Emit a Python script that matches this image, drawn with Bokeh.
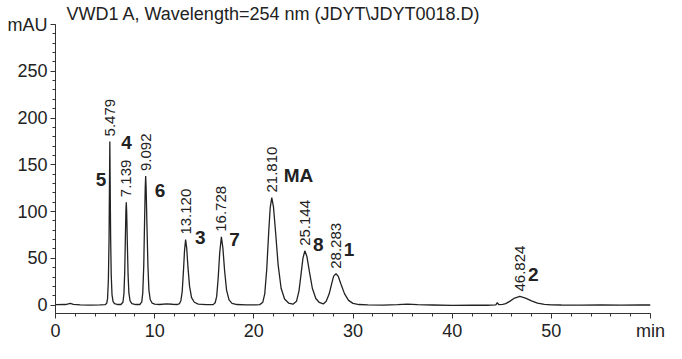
from math import pi
from bokeh.plotting import figure
from bokeh.models import SingleIntervalTicker, Range1d
from bokeh.core.properties import value
from bokeh.embed import file_html
from bokeh.resources import INLINE

# ---- data ----
trace_time = [0.0, 1.0, 1.5, 1.8, 2.5, 3.5, 4.5, 5.0, 5.17, 5.25, 5.33, 5.40, 5.44, 5.479,
              5.52, 5.56, 5.62, 5.70, 5.80, 5.95, 6.3, 6.6, 6.8, 6.9, 6.98, 7.05, 7.10, 7.139,
              7.18, 7.24, 7.32, 7.40, 7.52, 7.7, 8.1, 8.5, 8.7, 8.8, 8.9, 8.98, 9.05, 9.092,
              9.14, 9.22, 9.32, 9.42, 9.55, 9.75, 10.0, 10.5, 11.2, 11.8, 12.3, 12.5, 12.65,
              12.78, 12.9, 13.01, 13.12, 13.23, 13.36, 13.52, 13.72, 14.0, 14.4, 15.2, 15.9,
              16.1, 16.25, 16.4, 16.56, 16.728, 16.88, 17.05, 17.25, 17.5, 17.8, 18.3, 19.2,
              20.2, 20.6, 20.9, 21.1, 21.3, 21.5, 21.65, 21.81, 21.98, 22.2, 22.45, 22.75,
              23.1, 23.5, 23.95, 24.3, 24.55, 24.75, 24.95, 25.144, 25.35, 25.6, 25.9, 26.25,
              26.6, 27.0, 27.3, 27.6, 27.85, 28.05, 28.283, 28.5, 28.8, 29.15, 29.55, 30.0,
              30.6, 31.5, 33.0, 34.5, 35.5, 36.5, 38.0, 40.0, 42.0, 43.5, 44.4, 44.55, 44.7,
              45.1, 45.4, 45.8, 46.3, 46.824, 47.4, 48.0, 48.6, 49.3, 50.0, 51.0, 53.0, 55.0,
              57.0, 59.0, 60.0]
trace_mau = [0.5, 0.6, 1.8, 0.8, 0.3, 0.0, 0.2, 0.4, 2, 7, 26, 70, 125, 175,
             120, 72, 32, 11, 4, 1.5, 0.6, 0.6, 3, 12, 35, 74, 101, 110,
             99, 68, 32, 13, 4.5, 1.5, 0.6, 0.6, 3.5, 13, 42, 88, 126, 138,
             125, 86, 42, 16, 6, 2, 1, 0.6, 1.3, 0.9, 0.6, 1.5, 5,
             15, 36, 58, 70, 61, 40, 20, 8, 3, 1, 0.4, 0.5,
             2.5, 9, 28, 56, 73, 61, 37, 16, 5.5, 1.8, 0.6, 0.3,
             0.3, 0.5, 3, 12, 38, 78, 104, 115, 105, 77, 43, 18,
             6.5, 2.2, 1.0, 4, 15, 32, 50, 58, 52, 36, 18, 7,
             2.8, 1.2, 4, 12, 23, 31, 33.5, 31, 22, 12, 5, 1.8,
             0.6, 0.2, 0.0, 0.5, 1.0, 0.4, 0.1, -0.3, 0.0, -0.2, 0.3, 2.5, 0.4,
             0.8, 1.6, 4, 7.5, 9.2, 7.5, 4.5, 2, 0.7, 0.2, 0.1, 0.0, 0.3,
             0.0, 0.2, 0.1]

rt_values = [5.479, 7.139, 9.092, 13.120, 16.728, 21.810, 25.144, 28.283, 46.824]
rt_apex = [175, 110, 138, 70, 73, 115, 58, 33.5, 9.2]
rt_labels = ["5.479", "7.139", "9.092", "13.120", "16.728", "21.810", "25.144", "28.283", "46.824"]

compound_names = ["5", "4", "6", "3", "7", "MA", "8", "1", "2"]
compound_x = [4.58, 7.16, 10.55, 14.59, 18.06, 24.5, 26.51, 29.61, 48.19]
compound_y = [134.4, 173.5, 122.4, 72.4, 70.4, 138.8, 64.3, 59.5, 32.3]

x_tick_overrides = {60: "min"}
y_tick_overrides = {300: "mAU"}
title_text = "VWD1 A, Wavelength=254 nm (JDYT\\JDYT0018.D)"
FONT = "Liberation Sans"
INK = "#222222"

p = figure(width=666, height=343,
           x_range=Range1d(0, 60), y_range=Range1d(-9, 300),
           output_backend="svg", toolbar_location=None,
           min_border_left=55, min_border_right=16, min_border_top=0, min_border_bottom=26)
p.outline_line_color = None
p.grid.visible = False
p.background_fill_color = "white"

p.title.text = title_text
p.title.text_font = FONT
p.title.text_font_size = "18px"
p.title.text_font_style = "normal"
p.title.text_color = INK
p.title.align = "left"
p.title.offset = 11
p.title.standoff = 2

p.line(trace_time, trace_mau, line_color=INK, line_width=1.3)

p.text(x=rt_values, y=rt_apex, text=rt_labels, angle=pi / 2,
       text_align="left", text_baseline="middle", y_offset=-5,
       text_font=value(FONT), text_font_size="15px", text_color=INK)

p.text(x=compound_x, y=compound_y, text=compound_names,
       text_align="center", text_baseline="middle",
       text_font=value(FONT), text_font_size="19px", text_font_style="bold",
       text_color=INK)

for ax in (p.xaxis[0], p.yaxis[0]):
    ax.axis_line_color = "#333333"
    ax.major_tick_line_color = "#333333"
    ax.minor_tick_line_color = "#333333"
    ax.major_tick_in = 0
    ax.major_tick_out = 5
    ax.minor_tick_in = 0
    ax.minor_tick_out = 3
    ax.major_label_text_font = FONT
    ax.major_label_text_font_size = "18px"
    ax.major_label_text_color = INK

p.xaxis[0].ticker = SingleIntervalTicker(interval=10, num_minor_ticks=5)
p.xaxis[0].major_label_overrides = x_tick_overrides
p.xaxis[0].major_label_standoff = 2
p.yaxis[0].ticker = SingleIntervalTicker(interval=50, num_minor_ticks=5)
p.yaxis[0].major_label_overrides = y_tick_overrides
p.yaxis[0].major_label_standoff = 3

open("out.html", "w").write(file_html(p, INLINE))
